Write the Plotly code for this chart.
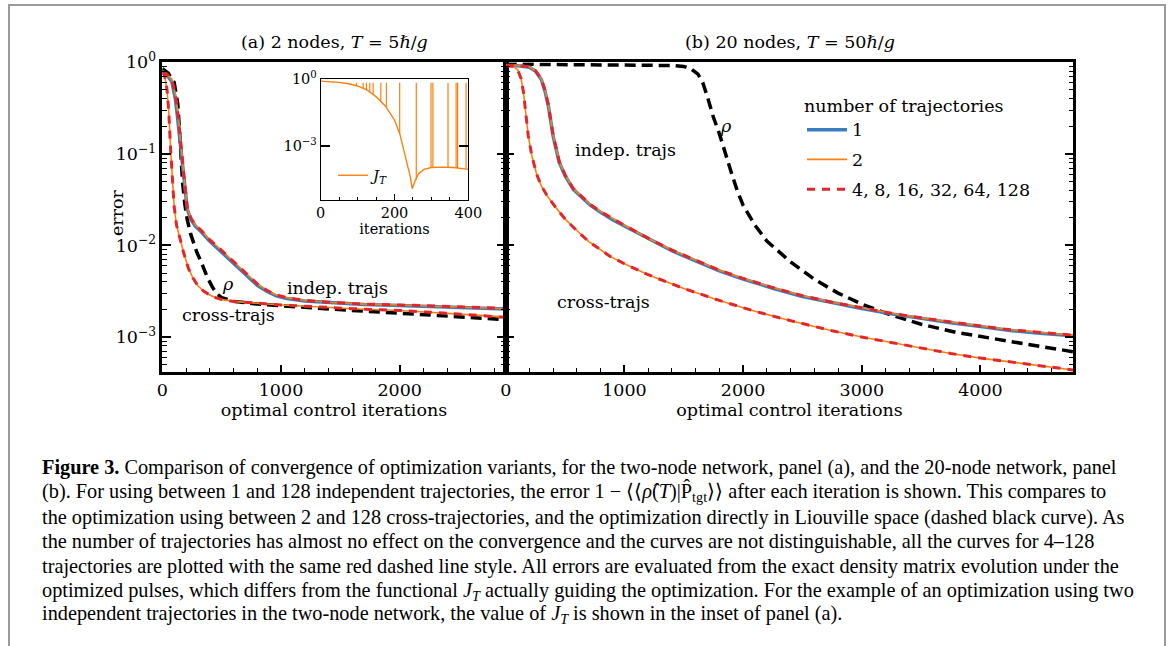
import plotly.graph_objects as go

W, H = 1171, 646
def px(x):
    return x / W
def py(y):
    return 1 - y / H

# ---------------- data ----------------
# panel (a): 2 nodes
a_indep_iter = [0, 40, 80, 110, 130, 150, 165, 180, 195, 210, 240, 280, 330, 400, 480, 560, 640, 720, 800, 880, 960, 1050, 1200, 1400, 1700, 2000, 2400, 2890]
a_indep_1 = [0.794, 0.724, 0.617, 0.398, 0.240, 0.138, 0.0851, 0.0525, 0.0347, 0.0251, 0.0193, 0.0162, 0.0140, 0.0111, 0.00892, 0.00708, 0.00576, 0.00458, 0.00367, 0.00316, 0.00281, 0.00263, 0.00248, 0.00237, 0.00226, 0.00221, 0.00211, 0.00202]
a_indep_2 = [0.794, 0.741, 0.646, 0.447, 0.282, 0.166, 0.100, 0.0603, 0.0380, 0.0263, 0.0200, 0.0166, 0.0145, 0.0115, 0.00933, 0.00741, 0.00603, 0.00479, 0.00380, 0.00324, 0.00288, 0.00269, 0.00251, 0.00240, 0.00229, 0.00224, 0.00214, 0.00204]
a_indep_many = [0.794, 0.741, 0.646, 0.447, 0.282, 0.166, 0.100, 0.0603, 0.0380, 0.0263, 0.0200, 0.0166, 0.0145, 0.0115, 0.00933, 0.00741, 0.00603, 0.00479, 0.00380, 0.00324, 0.00288, 0.00269, 0.00251, 0.00240, 0.00229, 0.00224, 0.00214, 0.00206]

a_cross_iter = [0, 20, 40, 55, 70, 85, 100, 120, 150, 180, 220, 260, 300, 350, 400, 450, 500, 600, 800, 1000, 1300, 1600, 2000, 2400, 2890]
a_cross_2 = [0.794, 0.708, 0.501, 0.282, 0.112, 0.0501, 0.0263, 0.0166, 0.0115, 0.00832, 0.00562, 0.00437, 0.00363, 0.00316, 0.00288, 0.00269, 0.00257, 0.00245, 0.00234, 0.00224, 0.00214, 0.00204, 0.00195, 0.00182, 0.00166]
a_cross_many = [0.794, 0.708, 0.501, 0.282, 0.112, 0.0501, 0.0263, 0.0166, 0.0115, 0.00832, 0.00562, 0.00437, 0.00363, 0.00316, 0.00288, 0.00269, 0.00257, 0.00245, 0.00234, 0.00224, 0.00214, 0.00204, 0.00195, 0.00182, 0.00164]

a_rho_iter = [0, 50, 100, 130, 150, 170, 190, 210, 240, 290, 340, 380, 420, 460, 500, 600, 800, 1000, 1300, 1600, 2000, 2400, 2890]
a_rho = [0.851, 0.759, 0.603, 0.355, 0.141, 0.0501, 0.0282, 0.0191, 0.0132, 0.00851, 0.00603, 0.00447, 0.00355, 0.00295, 0.00269, 0.00245, 0.00229, 0.00219, 0.00204, 0.00195, 0.00182, 0.00170, 0.00155]

# inset: J_T for two independent trajectories (2 nodes)
jt_iter = [0, 25, 50, 75, 100, 125, 150, 175, 200, 215, 225, 235, 243, 248, 255, 265, 280, 300, 330, 360, 380, 400]
jt_val = [0.832, 0.794, 0.724, 0.631, 0.501, 0.331, 0.166, 0.0631, 0.0148, 0.00316, 0.00063, 0.000126, 0.0000398, 0.000012, 0.0000251, 0.0000562, 0.0000891, 0.000107, 0.000112, 0.000107, 0.000100, 0.0000891]
jt_spike_iter = [34, 52, 70, 97, 115, 124, 133, 142, 163, 178, 214, 259, 299, 304, 345, 367, 371, 394]
jt_spike_base = [0.78, 0.72, 0.66, 0.52, 0.40, 0.34, 0.27, 0.21, 0.10, 0.055, 0.0035, 0.000030, 0.000107, 0.000107, 0.000110, 0.000105, 0.000103, 0.000092]
jt_spike_top = [0.70, 0.70, 0.70, 0.70, 0.70, 0.70, 0.70, 0.70, 0.70, 0.70, 0.70, 0.70, 0.70, 0.70, 0.70, 0.70, 0.70, 0.70]

# panel (b): 20 nodes
b_indep_iter = [0, 100, 200, 250, 300, 330, 360, 400, 450, 500, 570, 650, 710, 800, 900, 1000, 1200, 1400, 1600, 1800, 2000, 2250, 2500, 2750, 3000, 3250, 3500, 3750, 4000, 4250, 4500, 4780]
b_indep_1 = [0.923, 0.918, 0.885, 0.805, 0.650, 0.490, 0.330, 0.155, 0.0815, 0.0578, 0.0410, 0.0325, 0.0277, 0.0230, 0.0191, 0.0163, 0.0118, 0.00875, 0.00680, 0.00528, 0.00430, 0.00341, 0.00277, 0.00236, 0.00205, 0.00179, 0.00159, 0.00143, 0.00130, 0.00118, 0.00110, 0.00103]
b_indep_2 = [0.923, 0.923, 0.891, 0.813, 0.661, 0.501, 0.339, 0.158, 0.0832, 0.0589, 0.0417, 0.0331, 0.0282, 0.0234, 0.0195, 0.0166, 0.0120, 0.00891, 0.00692, 0.00537, 0.00437, 0.00347, 0.00282, 0.00240, 0.00209, 0.00182, 0.00162, 0.00145, 0.00132, 0.00120, 0.00112, 0.00105]
b_indep_many = [0.923, 0.923, 0.891, 0.813, 0.661, 0.501, 0.339, 0.158, 0.0832, 0.0589, 0.0417, 0.0331, 0.0282, 0.0234, 0.0195, 0.0166, 0.0120, 0.00891, 0.00692, 0.00537, 0.00437, 0.00347, 0.00282, 0.00240, 0.00209, 0.00182, 0.00162, 0.00145, 0.00132, 0.00120, 0.00112, 0.00105]

b_cross_iter = [0, 60, 100, 130, 150, 170, 190, 220, 260, 300, 350, 430, 500, 570, 700, 880, 1000, 1200, 1500, 1800, 2100, 2400, 2750, 3000, 3400, 3750, 4000, 4400, 4780]
b_cross_2 = [0.923, 0.902, 0.832, 0.661, 0.468, 0.282, 0.158, 0.0955, 0.0603, 0.0447, 0.0347, 0.0251, 0.0195, 0.0158, 0.0110, 0.00759, 0.00631, 0.00479, 0.00339, 0.00251, 0.00191, 0.00151, 0.00117, 0.00100, 0.000794, 0.000661, 0.000589, 0.000501, 0.000437]
b_cross_many = [0.923, 0.902, 0.832, 0.661, 0.468, 0.282, 0.158, 0.0955, 0.0603, 0.0447, 0.0347, 0.0251, 0.0195, 0.0158, 0.0110, 0.00759, 0.00631, 0.00479, 0.00339, 0.00251, 0.00191, 0.00151, 0.00117, 0.00100, 0.000794, 0.000661, 0.000589, 0.000501, 0.000437]

b_rho_iter = [0, 400, 800, 1200, 1400, 1500, 1560, 1620, 1660, 1700, 1750, 1800, 1850, 1900, 1950, 2000, 2100, 2200, 2400, 2600, 2800, 3000, 3200, 3500, 3800, 4100, 4400, 4780]
b_rho = [0.955, 0.951, 0.944, 0.933, 0.923, 0.902, 0.851, 0.741, 0.603, 0.417, 0.251, 0.166, 0.100, 0.0631, 0.0398, 0.0275, 0.0166, 0.0112, 0.00661, 0.00427, 0.00302, 0.00229, 0.00182, 0.00138, 0.00112, 0.000955, 0.000832, 0.000692]

y_tick_vals = [1, 0.1, 0.01, 0.001]
y_tick_text = ["10<sup>0</sup>", "10<sup>\u22121</sup>", "10<sup>\u22122</sup>", "10<sup>\u22123</sup>"]
inset_y_tick_vals = [1, 0.001]
inset_y_tick_text = ["10<sup>0</sup>", "10<sup>\u22123</sup>"]
legend_labels = ["1", "2", "4, 8, 16, 32, 64, 128"]

# ---------------- style ----------------
BLUE = "#3a7ec2"
ORANGE = "#ff7f0e"
RED = "#e3262b"
BLACK = "#000000"
SERIF = "DejaVu Serif"
FS = 17.5

fig = go.Figure()

def add(x, y, xa, ya, color, width, dash=None, name=None, show=False, rank=None, legend="legend"):
    fig.add_trace(go.Scatter(
        x=x, y=y, xaxis=xa, yaxis=ya, mode="lines",
        line=dict(color=color, width=width, dash=dash),
        name=name, showlegend=show, legendrank=rank if rank else 1000,
        legend=legend, legendgroup=name if show else None,
        hoverinfo="skip"))

RHO_DASH = "11px,6px"
RED_DASH = "8px,7px"

# panel a
add(a_rho_iter, a_rho, "x", "y", BLACK, 3.5, RHO_DASH)
add(a_indep_iter, a_indep_1, "x", "y", BLUE, 3.5)
add(a_indep_iter, a_indep_2, "x", "y", ORANGE, 1.6)
add(a_indep_iter, a_indep_many, "x", "y", RED, 3, RED_DASH)
add(a_cross_iter, a_cross_2, "x", "y", ORANGE, 1.6)
add(a_cross_iter, a_cross_many, "x", "y", RED, 3, RED_DASH)

# panel b
add(b_rho_iter, b_rho, "x2", "y2", BLACK, 3.5, RHO_DASH)
add(b_indep_iter, b_indep_1, "x2", "y2", BLUE, 3.5, None, legend_labels[0], True, 1)
add(b_indep_iter, b_indep_2, "x2", "y2", ORANGE, 1.6, None, legend_labels[1], True, 2)
add(b_indep_iter, b_indep_many, "x2", "y2", RED, 3, RED_DASH, legend_labels[2], True, 3)
add(b_cross_iter, b_cross_2, "x2", "y2", ORANGE, 1.6)
add(b_cross_iter, b_cross_many, "x2", "y2", RED, 3, RED_DASH)

# inset
fig.add_trace(go.Scatter(
    x=jt_iter, y=jt_val, xaxis="x3", yaxis="y3", mode="lines",
    line=dict(color=ORANGE, width=1.4), name="<i>J<sub>T</sub></i>",
    showlegend=True, legend="legend2", legendgroup="jt", hoverinfo="skip"))
spx, spy = [], []
for k, b, t in zip(jt_spike_iter, jt_spike_base, jt_spike_top):
    spx += [k, k, None]
    spy += [b, t, None]
fig.add_trace(go.Scatter(
    x=spx, y=spy, xaxis="x3", yaxis="y3", mode="lines",
    line=dict(color=ORANGE, width=1.2), showlegend=False,
    legendgroup="jt", hoverinfo="skip"))

# ---------------- axes ----------------
minor_y = [m * 10.0 ** e for e in (-4, -3, -2, -1) for m in range(2, 10)]
minor_y = [v for v in minor_y if v > 4.2e-4]

tickfont = dict(family=SERIF, size=FS, color="black")
common_x = dict(showgrid=False, zeroline=False, showline=True, linecolor="black",
                linewidth=2.5, mirror=True, ticks="inside", ticklen=8, tickwidth=1.5,
                tickcolor="black", dtick=1000, tick0=0, tickfont=tickfont, automargin=False,
                minor=dict(ticks="inside", ticklen=4.5, tickwidth=1.2, tickcolor="black", dtick=200, tick0=0, showgrid=False),
                title=dict(text="optimal control iterations", font=dict(family=SERIF, size=FS, color="black"), standoff=4))
common_y = dict(type="log", range=[-3.385, 0], showgrid=False, zeroline=False, showline=True,
                linecolor="black", linewidth=2.5, mirror="allticks", ticks="inside",
                ticklen=9, tickwidth=1.5, tickcolor="black", tickmode="array", automargin=False,
                tickvals=y_tick_vals, ticktext=y_tick_text, tickfont=tickfont,
                minor=dict(ticks="inside", ticklen=5, tickwidth=1.2, tickcolor="black", tickmode="array", tickvals=minor_y, showgrid=False))

fig.update_layout(
    width=W, height=H, autosize=False,
    margin=dict(l=0, r=0, t=0, b=0, pad=0, autoexpand=False),
    paper_bgcolor="white", plot_bgcolor="white",
    font=dict(family=SERIF, size=FS, color="black"),
    xaxis=dict(domain=[px(162.3), px(505.7)], range=[0, 2893], anchor="y", **common_x),
    yaxis=dict(domain=[py(372.3), py(62.3)], anchor="x", showticklabels=True, **common_y),
    xaxis2=dict(domain=[px(505.7), px(1073.3)], range=[0, 4782], anchor="y2", **common_x),
    yaxis2=dict(domain=[py(372.3), py(62.3)], anchor="x2", showticklabels=False, **common_y),
    xaxis3=dict(domain=[px(320.7), px(468.3)], range=[0, 400], anchor="y3", automargin=False,
                showgrid=False, zeroline=False, showline=True, linecolor="black", linewidth=1,
                mirror=True, ticks="inside", ticklen=6, tickwidth=1, tickcolor="black",
                tickmode="array", tickvals=[0, 200, 400],
                tickfont=dict(family=SERIF, size=14.5, color="black"),
                minor=dict(ticks="inside", ticklen=3.5, tickwidth=1, tickcolor="black", dtick=50, tick0=0, showgrid=False),
                title=dict(text="iterations", font=dict(family=SERIF, size=14.5, color="black"), standoff=0)),
    yaxis3=dict(domain=[py(200), py(79.3)], anchor="x3", type="log", range=[-5.43, 0], automargin=False,
                showgrid=False, zeroline=False, showline=True, linecolor="black", linewidth=1,
                mirror="allticks", ticks="inside", ticklen=9, tickwidth=1.5, tickcolor="black",
                tickmode="array", tickvals=inset_y_tick_vals, ticktext=inset_y_tick_text,
                tickfont=dict(family=SERIF, size=14.5, color="black")),
    legend=dict(x=px(802), y=py(89), xanchor="left", yanchor="top",
                bgcolor="rgba(0,0,0,0)", borderwidth=0,
                font=dict(family=SERIF, size=FS, color="black"),
                title=dict(text="number of trajectories", side="top",
                           font=dict(family=SERIF, size=FS, color="black")),
                tracegroupgap=4, traceorder="grouped", itemwidth=40),
    legend2=dict(x=px(333), y=py(159), xanchor="left", yanchor="top",
                 bgcolor="rgba(0,0,0,0)", borderwidth=0,
                 font=dict(family=SERIF, size=15, color="black"), itemwidth=30),
)

# ---------------- text ----------------
ann = []
def note(text, x, y, xref, yref, size=FS, family=SERIF, xanchor="center", yanchor="middle", angle=0):
    ann.append(dict(text=text, x=x, y=y, xref=xref, yref=yref, showarrow=False,
                    font=dict(family=family, size=size, color="black"),
                    xanchor=xanchor, yanchor=yanchor, textangle=angle))

note("(a) 2 nodes, <i>T</i> = 5\u210f/<i>g</i>", px(334), py(42), "paper", "paper")
note("(b) 20 nodes, <i>T</i> = 50\u210f/<i>g</i>", px(789.5), py(42), "paper", "paper")
note("error", px(117), py(213), "paper", "paper", angle=-90)

# in-plot labels (data coordinates: y in log10 units)
note("indep. trajs", 1480, -2.46, "x", "y")
note("cross-trajs", 555, -2.76, "x", "y")
note("<i>\u03c1</i>", 555, -2.42, "x", "y")
note("indep. trajs", 1013, -0.96, "x2", "y2")
note("cross-trajs", 820, -2.62, "x2", "y2")
note("<i>\u03c1</i>", 1855, -0.70, "x2", "y2")

caption = [
    "<b>Figure 3.</b> Comparison of convergence of optimization variants, for the two-node network, panel (a), and the 20-node network, panel",
    "(b). For using between 1 and 128 independent trajectories, the error 1 \u2212 \u27e8\u27e8<i>\u03c1\u0302</i>(<i>T</i>)|P\u0302<sub>tgt</sub>\u27e9\u27e9 after each iteration is shown. This compares to",
    "the optimization using between 2 and 128 cross-trajectories, and the optimization directly in Liouville space (dashed black curve). As",
    "the number of trajectories has almost no effect on the convergence and the curves are not distinguishable, all the curves for 4\u2013128",
    "trajectories are plotted with the same red dashed line style. All errors are evaluated from the exact density matrix evolution under the",
    "optimized pulses, which differs from the functional <i>J<sub>T</sub></i> actually guiding the optimization. For the example of an optimization using two",
    "independent trajectories in the two-node network, the value of <i>J<sub>T</sub></i> is shown in the inset of panel (a).",
]
cap_y = [467, 492, 517, 541, 566, 591, 614]
for t, yy in zip(caption, cap_y):
    note(t, px(40), py(yy), "paper", "paper", size=20.3, family="Liberation Serif", xanchor="left")

fig.update_layout(annotations=ann)

fig.add_shape(type="rect", xref="paper", yref="paper",
              x0=px(9), x1=px(1165), y0=py(660), y1=py(5),
              line=dict(color="#9a9a9a", width=2), layer="below")

fig.write_html("out.html", config={"displayModeBar": False},
               post_script="document.body.style.margin='0px';")
